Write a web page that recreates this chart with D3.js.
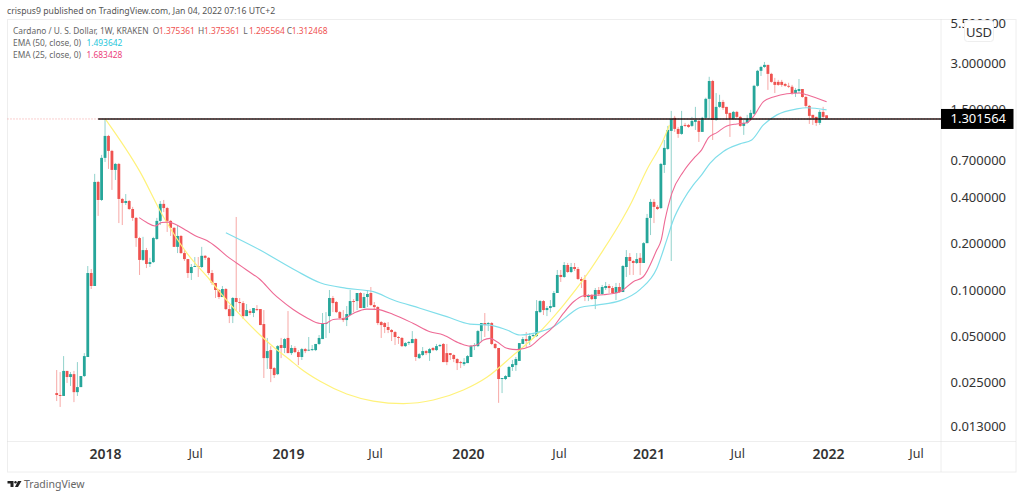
<!DOCTYPE html>
<html>
<head>
<meta charset="utf-8">
<style>
  html, body { margin: 0; padding: 0; background: #fff; }
  svg { display: block; }
  text { font-family: "Noto Sans", sans-serif; }
  .axis path, .axis line { display: none; }
</style>
<script src="https://cdn.jsdelivr.net/npm/d3@7/dist/d3.min.js"></script>
</head>
<body>
<div id="root"></div>
<script>
"use strict";

// weekly candles, ADA/USD, first one is late Sep 2017
const opens = [.0213,.0207,.0204,.0297,.0271,.0283,.0216,.0233,.0275,.0366,.129,.1062,.506,.386,.726,1.009,.806,.606,.663,.392,.369,.38,.337,.295,.218,.157,.182,.1477,.152,.215,.282,.364,.342,.282,.254,.191,.225,.174,.159,.129,.1412,.1433,.1412,.167,.162,.129,.1111,.1,.09,.1015,.0751,.0676,.0887,.0835,.0822,.0676,.0729,.0708,.0751,.0751,.06,.036,.0406,.031,.0283,.0438,.0419,.0487,.0388,.0419,.0394,.0366,.0412,.0405,.0406,.0406,.0445,.0479,.06,.0676,.0887,.0835,.0718,.0656,.0637,.0687,.0847,.0847,.0956,.0763,.09,.0956,.0798,.0774,.0618,.0609,.0574,.0549,.0532,.0494,.0487,.0431,.0451,.0451,.0479,.036,.0377,.04,.0388,.0419,.0406,.0431,.0445,.0388,.0388,.0377,.0355,.0339,.0329,.0334,.0366,.0431,.0431,.054,.0609,.06,.0609,.0445,.0419,.0263,.0263,.0271,.0315,.0324,.0345,.0445,.0479,.0465,.0501,.0501,.0718,.0847,.074,.0763,.0774,.0956,.1253,.1216,.1455,.131,.1412,.137,.118,.1162,.09,.0928,.0873,.1,.0942,.103,.1062,.103,.0956,.1046,.097,.1412,.164,.1545,.15,.162,.15,.202,.295,.375,.348,.342,.653,.83,1.088,1.323,1.121,1.04,1.19,1.19,1.173,1.245,1.264,1.072,1.323,1.76,2.30,1.283,1.56,1.68,1.56,1.426,1.303,1.447,1.343,1.173,1.227,1.303,1.405,2.14,2.68,2.84,2.93,2.56,2.27,2.27,2.27,2.20,2.14,2.11,1.92,1.98,2.04,1.81,1.583,1.384,1.343,1.227,1.447,1.375];
const highs = [.0301,.0292,.0371,.0297,.0292,.0297,.0339,.0275,.0388,.1433,.137,.571,.514,.759,1.303,1.025,.818,.673,.673,.398,.422,.386,.348,.299,.222,.222,.188,.162,.222,.295,.38,.386,.348,.286,.257,.265,.228,.182,.159,.1477,.164,.164,.191,.169,.164,.135,.1111,.1015,.1062,.103,.0798,.09,.299,.0887,.0847,.081,.0751,.0763,.0798,.0751,.074,.0487,.0431,.0315,.0438,.0487,.0487,.0729,.0438,.0431,.0406,.0419,.0419,.0494,.0438,.0445,.0509,.0708,.0718,.1,.0914,.0847,.0729,.074,.0786,.1,.0873,.0956,.097,.0956,.1,.1046,.0835,.0786,.0628,.0618,.0618,.0557,.054,.0501,.0494,.0458,.0465,.054,.0487,.0388,.0425,.0406,.0419,.0425,.0445,.0445,.0451,.0445,.0388,.0382,.036,.0345,.036,.0377,.0438,.0451,.0549,.0609,.0708,.0618,.0618,.0451,.0419,.0267,.0279,.032,.035,.0366,.0451,.0494,.0532,.0524,.0524,.086,.086,.086,.0786,.086,.0985,.135,.135,.152,.15,.15,.15,.1412,.1216,.1253,.0942,.0942,.103,.1046,.1078,.1128,.1094,.1062,.1111,.1111,.1455,.182,.174,.157,.174,.174,.205,.313,.392,.392,.358,.673,.95,1.173,1.469,1.363,1.155,1.469,1.227,1.208,1.343,1.56,1.283,1.343,1.79,2.45,2.339,1.92,1.87,1.732,1.56,1.426,1.469,1.469,1.363,1.283,1.384,1.491,2.17,2.718,2.89,3.06,2.93,2.60,2.41,2.339,2.339,2.24,2.24,2.17,2.07,2.37,2.04,1.84,1.607,1.384,1.343,1.491,1.56,1.375];
const lows = [.0189,.0173,.0204,.0248,.0237,.0186,.0204,.0233,.0271,.0366,.1015,.1062,.304,.38,.683,.615,.449,.521,.273,.265,.358,.332,.282,.191,.1253,.1545,.139,.1412,.15,.212,.265,.322,.239,.225,.191,.174,.172,.1545,.1198,.1162,.1412,.1216,.139,.157,.1253,.1078,.0887,.0873,.09,.074,.0609,.0609,.0729,.0718,.0647,.0676,.0687,.0666,.0729,.0591,.0267,.0306,.0251,.0267,.0279,.036,.0388,.0388,.0377,.0388,.0324,.035,.0388,.04,.04,.04,.0438,.0479,.0487,.0524,.0718,.0708,.0647,.0618,.0582,.0687,.0718,.074,.0763,.0763,.0774,.0786,.074,.0591,.0487,.0524,.0524,.0465,.0438,.0445,.0425,.0425,.0438,.0451,.0345,.0355,.0371,.0377,.0345,.04,.04,.0425,.0339,.0324,.035,.0339,.0301,.031,.032,.0334,.0366,.0406,.0425,.0458,.0494,.054,.0438,.0412,.0184,.0213,.0259,.0271,.0297,.0297,.0345,.0445,.0425,.0438,.0494,.0494,.0708,.0687,.0676,.0718,.0774,.0956,.1128,.1198,.129,.129,.133,.1162,.103,.0847,.0847,.086,.0751,.0914,.0928,.1,.0956,.0942,.086,.0956,.097,.1216,.1253,.1253,.1477,.1253,.15,.202,.228,.273,.332,.337,.579,.818,.1545,1.072,.98,1.025,1.155,1.138,1.155,1.104,.922,1.072,1.303,1.303,.95,1.264,1.537,1.491,1.283,.994,1.283,1.303,1.155,1.025,1.208,1.264,1.384,2.11,2.48,2.80,2.013,2.24,1.92,2.14,2.11,2.11,2.07,1.87,1.81,1.92,1.79,1.537,1.208,1.19,1.173,1.19,1.303,1.2956];
const closes = [.0207,.0204,.0297,.0271,.0283,.0216,.0233,.0275,.0371,.129,.1062,.506,.386,.726,1.009,.806,.606,.663,.392,.369,.38,.337,.295,.218,.157,.182,.1477,.152,.218,.282,.364,.342,.282,.254,.191,.225,.174,.159,.129,.1412,.1433,.1412,.167,.162,.129,.1111,.1,.09,.1015,.0751,.0676,.0887,.0835,.0822,.0676,.074,.0708,.0763,.074,.0591,.036,.04,.0306,.0279,.0431,.0419,.0479,.0388,.0419,.0394,.0366,.0412,.04,.0408,.0412,.0445,.0487,.0609,.0609,.0887,.0822,.0718,.0656,.0637,.0697,.0847,.0835,.0956,.0763,.09,.0942,.0798,.0774,.0609,.0591,.0574,.0549,.0532,.0494,.0487,.0431,.0451,.0458,.0479,.0366,.0382,.04,.0388,.0412,.0406,.0431,.0438,.0339,.0339,.0377,.0355,.0334,.0334,.0339,.0371,.0431,.0438,.054,.0609,.0591,.0609,.0445,.0419,.0263,.0267,.0275,.0315,.0329,.0355,.0451,.0479,.0465,.0501,.0509,.0729,.0847,.074,.0763,.0786,.0956,.1253,.1216,.1455,.131,.1412,.137,.118,.1145,.09,.0928,.0873,.1,.0942,.1046,.1062,.103,.0956,.1046,.097,.1433,.164,.1545,.15,.159,.15,.202,.295,.375,.348,.337,.663,.843,1.104,1.303,1.121,1.04,1.173,1.173,1.155,1.264,1.283,1.072,1.323,1.76,2.30,1.283,1.56,1.68,1.537,1.405,1.303,1.447,1.343,1.173,1.227,1.303,1.426,2.14,2.68,2.84,2.93,2.56,2.27,2.17,2.17,2.17,2.14,2.11,1.92,2.013,2.04,1.81,1.583,1.363,1.323,1.227,1.447,1.343,1.3125];

// EMA and arc readings: week number and price
const ema25Weeks = [23.9,26.1,28.5,30.4,32.3,34.8,37.7,40.6,43.5,46.3,49.2,52.1,55,58.9,62.7,64.7,68.5,72.4,76.3,77.7,80.1,83,85.9,89.8,92.7,97.5,103.3,108.1,112,116.8,119.7,121.7,123.6,125.5,127.5,130.4,133.3,137.1,140,143.9,146.8,149.7,152.6,158.4,163.2,167,169.9,173.8,175.1,176.2,178.2,181.5,184.9,186.8,188.8,191.2,194.1,197,199.9,201.8,204.7,207.6,211.5,215.3,217.3,223];
const ema25Values = [.296,.275,.261,.275,.277,.265,.243,.223,.21,.19,.167,.15,.135,.117,.0952,.0868,.0746,.066,.0605,.0605,.0643,.065,.0704,.0751,.0748,.0693,.0605,.0535,.0509,.0449,.0431,.0438,.0472,.0484,.046,.0417,.0409,.0428,.0486,.0577,.0706,.0838,.0918,.0932,.0975,.1133,.122,.182,.212,.286,.428,.59,.737,.818,.985,1.06,1.173,1.208,1.23,1.347,1.69,1.81,1.90,1.92,1.87,1.683];
const ema50Weeks = [49,58.9,69,76.5,84,91.7,97.5,105.2,113,119.7,125.5,130.4,134.2,140,143.9,147.7,151.6,156.4,163.2,169,173.8,176.7,178.6,181.5,184.4,186.8,189.2,193.1,197.9,201.3,204.7,208.6,214.4,217.3,223];
const ema50Values = [.236,.182,.135,.111,.1026,.0975,.086,.0761,.067,.06,.0591,.0549,.0509,.0535,.0577,.067,.0769,.0798,.0852,.101,.138,.212,.286,.386,.484,.562,.669,.80,.895,.95,1.19,1.384,1.514,1.54,1.4936];
const arcWeeks = [14.1,24.1,30.9,37.7,44.4,49.2,54.1,58.9,62.7,67.6,70.5,76.3,84,91.7,100.4,109.1,117.8,124.6,132.3,139,146.8,153.5,158.3,163.7,166.1,170.9,175.7,177.5];
const arcValues = [1.30,.591,.300,.174,.1162,.086,.0654,.0509,.0427,.035,.0309,.0254,.021,.0189,.0182,.0192,.0223,.027,.0377,.0509,.0798,.1253,.182,.286,.358,.606,.95,1.19];

const priceTicks = [5.5,3,1.5,.7,.4,.2,.1,.05,.025,.013];
const lastPrice = 1.301564;
const levelStartWeek = 12;
const timeTickWeeks = [14,40.1,67,92.2,119.1,145.5,171.4,197.1,223.4,248.9];
const timeTickLabels = ["2018","Jul","2019","Jul","2020","Jul","2021","Jul","2022","Jul"];

const up = "#26a69a", down = "#ef5350";
const width = 1024, height = 497;
const plotL = 7.5, plotR = 941, plotT = 19.5, plotB = 441.5, frameR = 1016, frameB = 472;

const svg = d3.select("#root").append("svg").attr("width", width).attr("height", height);

const x = d3.scaleLinear().domain([0, 223]).range([56.7, 826.6]);
const y = d3.scaleLog().domain([0.1, 3.2]).range([290, 59]);

// frame
svg.append("rect").attr("x", plotL).attr("y", plotT).attr("width", frameR - plotL).attr("height", frameB - plotT)
  .attr("fill", "none").attr("stroke", "#eeeeee");
svg.append("line").attr("x1", plotR).attr("x2", plotR).attr("y1", plotT).attr("y2", frameB)
  .attr("stroke", "#dcdcdc").attr("stroke-dasharray", "1,1");
svg.append("line").attr("x1", plotL).attr("x2", frameR).attr("y1", plotB).attr("y2", plotB)
  .attr("stroke", "#dcdcdc").attr("stroke-dasharray", "1,1");

// candles
const weeks = d3.range(closes.length);
const candleColor = i => closes[i] >= opens[i] ? up : down;

svg.append("g").selectAll("line").data(weeks).join("line")
  .attr("x1", i => x(i)).attr("x2", i => x(i))
  .attr("y1", i => y(highs[i])).attr("y2", i => y(lows[i]))
  .attr("stroke", candleColor).attr("stroke-width", 1).attr("stroke-opacity", 0.5);

svg.append("g").selectAll("rect").data(weeks).join("rect")
  .attr("x", i => x(i) - 1.4).attr("width", 2.8)
  .attr("y", i => Math.min(y(opens[i]), y(closes[i])))
  .attr("height", i => Math.max(0.8, Math.abs(y(opens[i]) - y(closes[i]))))
  .attr("fill", candleColor);

// EMA lines and the arc
const lineOf = (w, v) => d3.line().x(i => x(w[i])).y(i => y(v[i])).curve(d3.curveMonotoneX)(d3.range(w.length));
const drawLine = (w, v, color, sw) => svg.append("path").attr("d", lineOf(w, v))
  .attr("fill", "none").attr("stroke", color).attr("stroke-width", sw);
drawLine(arcWeeks, arcValues, "#fff27a", 1.2);
drawLine(ema50Weeks, ema50Values, "#80deea", 1.2);
drawLine(ema25Weeks, ema25Values, "#ee6a95", 1.1);

// level line plus dotted last price line
svg.append("line").attr("x1", x(levelStartWeek)).attr("x2", plotR).attr("y1", y(lastPrice)).attr("y2", y(lastPrice))
  .attr("stroke", "#111").attr("stroke-width", 1.5);
svg.append("line").attr("x1", plotL).attr("x2", plotR).attr("y1", y(lastPrice)).attr("y2", y(lastPrice))
  .attr("stroke", down).attr("stroke-opacity", 0.55).attr("stroke-dasharray", "1,2");

// price axis
const yAxis = d3.axisRight(y).tickValues(priceTicks).tickFormat(d3.format(".6f")).tickSize(0).tickPadding(0);
const yG = svg.append("g").attr("class", "axis").attr("transform", "translate(950.5,0)").call(yAxis);
yG.selectAll("text").attr("font-size", 13).attr("fill", "#333").style("font-family", '"Noto Sans", sans-serif');

// time axis
const xAxis = d3.axisBottom(x).tickValues(timeTickWeeks).tickFormat((d, i) => timeTickLabels[i]).tickSize(0).tickPadding(0);
const xG = svg.append("g").attr("class", "axis").attr("transform", "translate(0,449.5)").call(xAxis);
xG.selectAll("text")
  .attr("font-size", d => timeTickLabels[timeTickWeeks.indexOf(d)] === "Jul" ? 12.5 : 14)
  .attr("font-weight", d => timeTickLabels[timeTickWeeks.indexOf(d)] === "Jul" ? 400 : 600)
  .attr("fill", "#333").style("font-family", '"Noto Sans", sans-serif');

// last price tag
svg.append("rect").attr("x", plotR).attr("y", y(lastPrice) - 10).attr("width", 72.5).attr("height", 20).attr("fill", "#000");
svg.append("text").attr("x", 950.5).attr("y", y(lastPrice) + 4.5).attr("font-size", 13).attr("fill", "#fff").text(lastPrice.toFixed(6));

// currency box
svg.append("rect").attr("x", 964.5).attr("y", 20.5).attr("width", 29).attr("height", 21).attr("rx", 3)
  .attr("fill", "#fff").attr("stroke", "#eeeeee");
svg.append("text").attr("x", 979).attr("y", 37).attr("text-anchor", "middle").attr("font-size", 13).attr("fill", "#333").text("USD");

// header and legend
const label = (tx, ty, s, color, size) => svg.append("text").attr("x", tx).attr("y", ty).attr("font-size", size || 8.4).attr("fill", color).text(s);
label(7, 14, "crispus9 published on TradingView.com, Jan 04, 2022 07:16 UTC+2", "#555", 8.7);
label(13, 33.5, "Cardano / U. S. Dollar, 1W, KRAKEN", "#666");
label(152.7, 33.5, "O", "#666"); label(159, 33.5, "1.375361", down);
label(198, 33.5, "H", "#666"); label(204, 33.5, "1.375361", down);
label(243.3, 33.5, "L", "#666"); label(249, 33.5, "1.295564", down);
label(286.7, 33.5, "C", "#666"); label(291.7, 33.5, "1.312468", down);
label(13, 45.5, "EMA (50, close, 0)", "#666"); label(86.5, 45.5, "1.493642", "#26c6da");
label(13, 57.5, "EMA (25, close, 0)", "#666"); label(86.5, 57.5, "1.683428", "#ec407a");

// logo
const logo = svg.append("g").attr("transform", "translate(7.5,481)").attr("fill", "#222");
logo.append("path").attr("d", "M0 0H6V6H3V2.5H0Z");
logo.append("circle").attr("cx", 8).attr("cy", 1.2).attr("r", 1.2);
logo.append("path").attr("d", "M10.5 0H14L10.5 6H7.5Z");
svg.append("text").attr("x", 24).attr("y", 488).attr("font-size", 10.5).attr("fill", "#666").text("TradingView");
</script>
</body>
</html>
